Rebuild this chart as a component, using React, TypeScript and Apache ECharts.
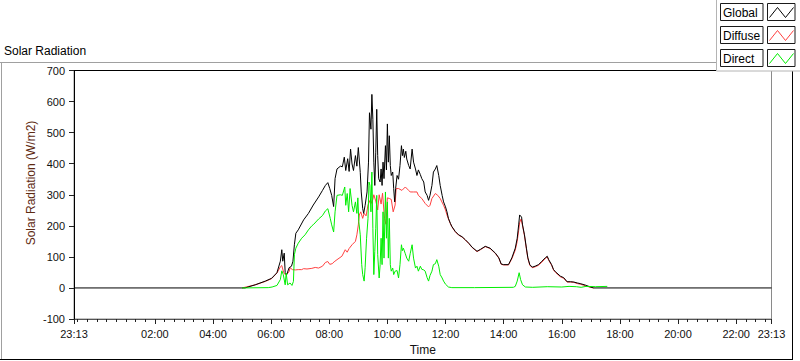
import React, { useEffect, useRef } from "react";
import * as echarts from "echarts";

// Series names (legend order) and their colours
const seriesNames = ["Global", "Diffuse", "Direct"];
const seriesColors = ["#000000", "#ff4040", "#00ee00"];

// Time in minutes after midnight (-47 = 23:13 of the previous day, 1393 = 23:13)
const axisStart = -47;
const axisEnd = 1393;

const globalMinutes = [
  -47, 306, 327, 348, 361, 372, 379, 382, 384, 387, 389, 392, 397, 402, 405, 408, 411, 416, 427, 437,
  447, 458, 466, 472, 477, 481, 485, 489, 492, 496, 503, 507, 511, 514, 518, 521, 524, 527, 530, 534,
  537, 540, 544, 546, 549, 551, 554, 558, 561, 563, 566, 568, 570, 572, 574, 576, 578, 580, 582, 585,
  587, 589, 591, 593, 596, 598, 600, 602, 604, 606, 608, 611, 613, 615, 617, 620, 623, 626, 629, 631,
  633, 635, 638, 640, 644, 647, 651, 654, 658, 661, 664, 668, 671, 675, 678, 682, 685, 688, 692, 695,
  699, 702, 706, 709, 713, 716, 720, 723, 726, 730, 733, 740, 747, 754, 761, 768, 775, 785, 792, 802,
  812, 823, 830, 835, 840, 850, 857, 864, 868, 871, 873, 877, 879, 883, 887, 890, 894, 899, 905, 912,
  919, 926, 930, 933, 939, 943, 947, 957, 964, 971, 978, 985, 992, 998, 1009, 1019, 1026, 1393,
];
const globalValues = [
  0, 0, 10, 22, 31, 49, 86, 123, 86, 112, 49, 42, 65, 70, 86, 139, 176, 187, 219, 240,
  267, 293, 314, 330, 339, 320, 298, 262, 352, 383, 392, 390, 421, 378, 416, 375, 447, 399, 378, 426,
  392, 452, 372, 309, 256, 240, 266, 309, 405, 564, 511, 623, 543, 405, 330, 437, 575, 426, 352, 341,
  383, 330, 405, 352, 458, 380, 528, 405, 490, 394, 362, 373, 320, 277, 320, 362, 350, 394, 458, 426,
  447, 420, 440, 415, 394, 383, 447, 405, 383, 362, 380, 365, 352, 341, 309, 298, 282, 298, 330, 373,
  383, 394, 362, 330, 298, 277, 261, 245, 224, 208, 198, 182, 171, 165, 155, 144, 131, 118, 124, 134,
  128, 112, 97, 77, 75, 75, 97, 128, 160, 203, 235, 228, 203, 171, 128, 97, 75, 67, 70, 75,
  86, 97, 102, 91, 75, 59, 52, 38, 33, 20, 20, 19, 16, 14, 9, 3, 0, 0,
];

const diffuseMinutes = [
  300, 327, 348, 361, 372, 379, 382, 386, 389, 393, 397, 399, 404, 410, 416, 423, 427, 434, 444, 451,
  458, 466, 472, 477, 481, 486, 490, 496, 506, 513, 517, 521, 527, 534, 537, 540, 542, 545, 549, 552,
  556, 560, 565, 568, 572, 576, 580, 583, 587, 590, 594, 597, 600, 604, 608, 612, 616, 618, 623, 630,
  637, 644, 647, 654, 661, 664, 671, 678, 685, 688, 692, 699, 704, 709, 716, 720, 723, 726, 730, 733,
  740, 747, 754, 761, 768, 775, 785, 792, 802, 812, 823, 830, 835, 840, 850, 857, 864, 868, 871, 873,
  876, 879, 883, 887, 890, 894, 899, 905, 912, 919, 926, 930, 933, 939, 943, 947, 957, 964, 971, 978,
  985, 992, 998, 1009, 1019, 1026,
];
const diffuseValues = [
  0, 10, 21, 30, 48, 68, 72, 49, 43, 46, 52, 65, 59, 58, 59, 59, 62, 61, 63, 66,
  64, 70, 82, 85, 76, 78, 84, 91, 102, 123, 115, 127, 139, 150, 171, 203, 235, 245, 224, 240,
  232, 267, 285, 272, 300, 280, 251, 300, 270, 305, 224, 205, 290, 288, 285, 245, 267, 320, 320, 314,
  325, 314, 309, 309, 309, 298, 288, 272, 261, 266, 288, 304, 298, 288, 266, 251, 235, 222, 207, 197,
  181, 170, 164, 154, 143, 130, 117, 123, 133, 127, 111, 96, 76, 74, 74, 94, 122, 150, 185, 210,
  222, 200, 168, 125, 95, 73, 65, 68, 73, 83, 95, 100, 89, 73, 58, 50, 36, 31, 19, 19,
  18, 14, 12, 7, 2, 0,
];

const directMinutes = [
  300, 354, 362, 372, 379, 382, 385, 389, 391, 394, 399, 403, 406, 408, 411, 416, 423, 430, 437, 444,
  448, 458, 466, 472, 477, 482, 485, 489, 492, 496, 503, 507, 512, 514, 517, 520, 523, 527, 530, 534,
  537, 539, 541, 544, 547, 549, 552, 554, 557, 560, 562, 564, 566, 568, 570, 572, 574, 576, 578, 580,
  583, 585, 587, 589, 591, 593, 596, 598, 600, 602, 604, 606, 608, 611, 613, 616, 620, 623, 626, 629,
  631, 633, 637, 640, 644, 647, 651, 654, 658, 661, 664, 668, 671, 675, 678, 682, 685, 688, 692, 695,
  699, 702, 706, 709, 713, 716, 720, 726, 733, 780, 860, 864, 868, 872, 875, 879, 885, 900, 930, 960,
  975, 990, 1000, 1010, 1030, 1054,
];
const directValues = [
  0, 1, 3, 8, 27, 55, 43, 10, 48, 10, 16, 8, 21, 107, 128, 144, 160, 171, 187, 200,
  205, 222, 233, 248, 255, 224, 203, 180, 245, 298, 300, 298, 325, 266, 304, 245, 320, 266, 245, 277,
  240, 290, 213, 171, 75, 43, 22, 65, 160, 224, 341, 330, 245, 373, 192, 43, 118, 192, 298, 107,
  32, 75, 160, 75, 245, 96, 309, 160, 277, 96, 224, 75, 54, 64, 43, 54, 56, 32, 75, 139,
  120, 128, 110, 96, 86, 110, 139, 96, 64, 70, 54, 70, 60, 58, 54, 33, 22, 40, 54, 75,
  78, 91, 70, 43, 32, 22, 12, 3, 1, 1, 2, 5, 22, 49, 27, 10, 3, 2, 4, 3,
  5, 4, 2, 5, 4, 5,
];

// Tick / label positions
const xLabelMinutes = [-47, 120, 240, 360, 480, 600, 720, 840, 960, 1080, 1200, 1320, 1393];
const xMinorStep = 20;
const yMin = -100;
const yMax = 700;
const yStep = 100;

const FONT = "'Liberation Sans', Arial, sans-serif";

function fmt(m: number): string {
  let mm = Math.round(m);
  if (mm < 0) mm += 1440;
  const h = Math.floor(mm / 60);
  const mi = mm % 60;
  return `${String(h).padStart(2, "0")}:${String(mi).padStart(2, "0")}`;
}

function zip(ms: number[], vs: number[]) {
  return ms.map((m, i) => [m, vs[i]]);
}

export default function App() {
  const ref = useRef<HTMLDivElement>(null);

  useEffect(() => {
    if (!ref.current) return;
    const chart = echarts.init(ref.current, null, { renderer: "svg" });

    const minorTicks: number[] = [];
    for (let m = Math.ceil(axisStart / xMinorStep) * xMinorStep; m <= axisEnd; m += xMinorStep) minorTicks.push(m);

    const datasets = [
      zip(globalMinutes, globalValues),
      zip(diffuseMinutes, diffuseValues),
      zip(directMinutes, directValues),
    ];
    const zOrder = [3, 2, 4];

    const legendGraphics: any[] = [
      { type: "rect", shape: { x: 716.5, y: -2, width: 90, height: 73 }, style: { fill: "#ffffff", stroke: "#b4b4b4", lineWidth: 1 }, z: 20 },
    ];
    seriesNames.forEach((name, i) => {
      const top = 3.5 + i * 23;
      legendGraphics.push(
        { type: "rect", shape: { x: 720.5, y: top, width: 42.5, height: 17 }, style: { fill: "#fff", stroke: "#1a1a1a", lineWidth: 1 }, z: 21 },
        { type: "text", x: 723, y: top + 9, style: { text: name, fill: "#000", font: `12px ${FONT}`, verticalAlign: "middle" }, z: 22 },
        { type: "rect", shape: { x: 767.5, y: top, width: 27.5, height: 17 }, style: { fill: "#fff", stroke: "#1a1a1a", lineWidth: 1 }, z: 21 },
        {
          type: "polyline",
          shape: { points: [[769.5, top + 14], [777.5, top + 4], [785.5, top + 14], [793.5, top + 4]] },
          style: { stroke: seriesColors[i], lineWidth: 1, fill: null },
          z: 22,
        }
      );
    });

    const option: any = {
      animation: false,
      backgroundColor: "#ffffff",
      textStyle: { fontFamily: FONT },
      grid: {
        left: 74,
        right: 28.5,
        top: 70.5,
        bottom: 39.5,
        show: true,
        borderColor: "#8a8a8a",
        borderWidth: 1,
        backgroundColor: "#ffffff",
      },
      xAxis: [
        {
          type: "value",
          min: axisStart,
          max: axisEnd,
          position: "bottom",
          axisLine: { show: true, onZero: false, lineStyle: { color: "#555555", width: 1 } },
          axisTick: { show: true, customValues: minorTicks, length: 3, lineStyle: { color: "#222" } },
          axisLabel: { show: false },
          splitLine: { show: false },
        },
        {
          type: "value",
          min: axisStart,
          max: axisEnd,
          position: "bottom",
          axisLine: { show: false, onZero: false },
          axisTick: { show: true, customValues: xLabelMinutes, length: 5, lineStyle: { color: "#222" } },
          axisLabel: {
            customValues: xLabelMinutes,
            formatter: (v: number) => fmt(v),
            fontSize: 11,
            color: "#111",
            margin: 9,
            hideOverlap: false,
            fontFamily: FONT,
          },
          splitLine: { show: false },
          name: "Time",
          nameLocation: "middle",
          nameGap: 25,
          nameTextStyle: { fontSize: 12, color: "#111", fontFamily: FONT },
        },
        {
          type: "value",
          min: axisStart,
          max: axisEnd,
          position: "top",
          axisLine: { show: true, onZero: false, lineStyle: { color: "#000", width: 1 } },
          axisTick: { show: false },
          axisLabel: { show: false },
          splitLine: { show: false },
        },
      ],
      yAxis: {
        type: "value",
        min: yMin,
        max: yMax,
        interval: yStep,
        axisLine: { show: true, onZero: false, lineStyle: { color: "#000", width: 1 } },
        axisTick: { show: true, length: 5, lineStyle: { color: "#222" } },
        axisLabel: { fontSize: 11, color: "#111", margin: 9, fontFamily: FONT },
        splitLine: { show: false },
      },
      graphic: [
        { type: "line", shape: { x1: 0, y1: 62.5, x2: 717, y2: 62.5 }, style: { stroke: "#a0a0a0", lineWidth: 1 }, z: 1 },
        { type: "line", shape: { x1: 1.5, y1: 62, x2: 1.5, y2: 360 }, style: { stroke: "#a0a0a0", lineWidth: 1 }, z: 1 },
        { type: "line", shape: { x1: 0, y1: 359.5, x2: 793, y2: 359.5 }, style: { stroke: "#000", lineWidth: 1 }, z: 1 },
        { type: "line", shape: { x1: 792.5, y1: 71, x2: 792.5, y2: 360 }, style: { stroke: "#000", lineWidth: 1 }, z: 1 },
        {
          type: "text",
          x: 4,
          y: 51,
          style: { text: "Solar Radiation", fill: "#000", font: `12px ${FONT}`, verticalAlign: "middle" },
          z: 5,
        },
        {
          type: "text",
          x: 31,
          y: 183,
          rotation: Math.PI / 2,
          style: { text: "Solar Radiation (W/m2)", fill: "#5e2a12", font: `12px ${FONT}`, align: "center", verticalAlign: "middle" },
          z: 5,
        },
        ...legendGraphics,
      ],
      series: seriesNames.map((name, i) => ({
        name,
        type: "line",
        xAxisIndex: 0,
        data: datasets[i],
        showSymbol: false,
        symbol: "none",
        silent: true,
        z: zOrder[i],
        lineStyle: { color: seriesColors[i], width: 1 },
        itemStyle: { color: seriesColors[i] },
      })),
    };

    chart.setOption(option);
    return () => chart.dispose();
  }, []);

  return (
    <div
      ref={ref}
      style={{ position: "fixed", left: 0, top: 0, width: 800, height: 361, background: "#fff" }}
    />
  );
}
